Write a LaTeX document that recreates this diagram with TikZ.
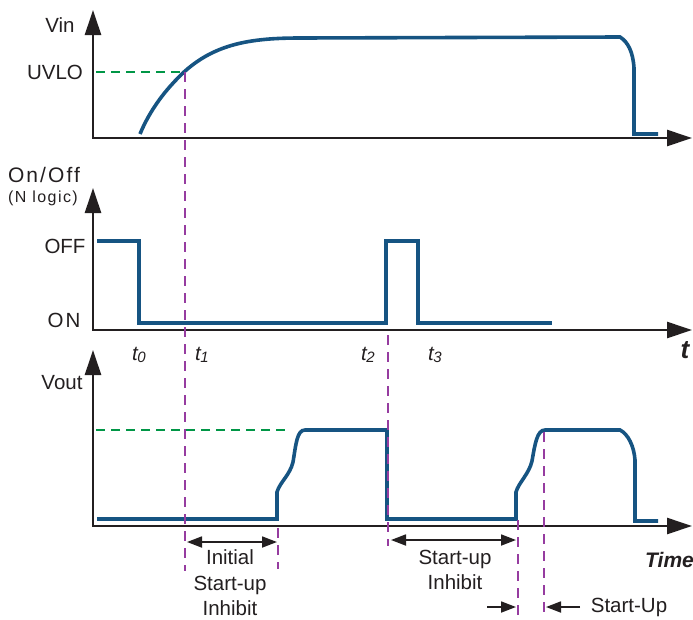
\documentclass[tikz,border=0pt]{standalone}
\usepackage{fontspec}
\setmainfont{Liberation Sans}
\usetikzlibrary{arrows.meta}
\definecolor{wave}{RGB}{22,84,130}
\definecolor{uvgreen}{RGB}{0,150,70}
\definecolor{mark}{RGB}{150,60,160}
\definecolor{axisc}{RGB}{35,31,32}
\begin{document}
\begin{tikzpicture}[x=1pt,y=-1pt,
  >={Triangle[length=15pt,width=11pt]},
  axis/.style={draw=axisc,line width=2.6pt,{Triangle[length=25pt,width=16pt]}-{Triangle[length=25pt,width=16pt]}},
  wv/.style={draw=wave,line width=3.6pt,line join=miter},
  grn/.style={draw=uvgreen,line width=2.8pt,dash pattern=on 9pt off 6pt},
  pur/.style={draw=mark,line width=2.8pt,dash pattern=on 10pt off 7pt},
  dim/.style={draw=axisc,line width=1.8pt},
  lbl/.style={font=\fontsize{20.5}{24}\selectfont,inner sep=0pt,text=axisc},
  tl/.style={font=\fontsize{20.5}{24}\selectfont\itshape,inner sep=0pt,text=axisc}
]
\useasboundingbox (0,0) rectangle (693,619);
% axes
\draw[axis] (93,10) -- (93,138) -- (692,138);
\draw[axis] (93,188) -- (93,330) -- (692,330);
\draw[axis] (93,350) -- (93,526) -- (692,526);

% labels
\node[lbl] (vin) at (60,25) {Vin};
\node[lbl] (uvlo) at (55,72) {UVLO};
\node[lbl,font=\fontsize{21}{24}\selectfont\addfontfeature{LetterSpace=10}] (onoff) at (44,175) {On/Off};
\node[lbl,font=\fontsize{16}{18}\selectfont\addfontfeature{LetterSpace=9}] (nlog) at (43,198) {(N logic)};
\node[lbl] (off) at (65,246) {OFF};
\node[lbl] (on) at (64,320) {O\kern2pt N};
\node[lbl] (vout) at (62,383) {Vout};

\newcommand{\tsub}[1]{t\kern-0.5pt\raisebox{-1.5pt}{\fontsize{15}{15}\selectfont #1}}
\node[tl] (t0) at (139,355) {\tsub{0}};
\node[tl] (t1) at (202,355) {\tsub{1}};
\node[tl] (t2) at (368,355) {\tsub{2}};
\node[tl] (t3) at (435,355) {\tsub{3}};
\node[tl,font=\fontsize{26}{28}\selectfont\bfseries\itshape] (tt) at (685,350) {t};
\node[tl,font=\fontsize{21}{24}\selectfont\bfseries\itshape,anchor=west] (time) at (645,560) {Time};

% Vin curve
\draw[wv] (140,134) .. controls (150,110) and (165,90) .. (184,72)
  .. controls (215,44) and (250,38) .. (300,38) -- (620,37)
  .. controls (628,42) and (633,52) .. (634,68) -- (634,134) -- (658,134);
\draw[grn] (96,72) -- (182,72);

% On/Off
\draw[wv] (97,241) -- (139,241) -- (139,323) -- (386,323) -- (386,241)
  -- (418,241) -- (418,323) -- (552,323);

% Vout
\draw[grn] (96,430) -- (290,430);
\draw[wv] (97,519) -- (277,519) -- (277,492)
  .. controls (280,482) and (290,475) .. (293,462)
  .. controls (296,444) and (297,430) .. (305,430) -- (387,430) -- (387,519)
  -- (516,519) -- (516,492)
  .. controls (519,482) and (529,474) .. (532,461)
  .. controls (535,444) and (537,430) .. (545,430) -- (620,430)
  .. controls (628,434) and (634,446) .. (635,460) -- (635,521) -- (658,521);

% markers
\coordinate (p1a) at (185,72);  \coordinate (p1b) at (185,571);
\coordinate (p2a) at (278,528); \coordinate (p2b) at (278,569);
\coordinate (p3a) at (388,335); \coordinate (p3b) at (388,546);
\coordinate (p4a) at (518,520); \coordinate (p4b) at (518,619);
\coordinate (p5a) at (544,432); \coordinate (p5b) at (544,619);
\draw[pur] (p1a) -- (p1b);
\draw[pur] (p2a) -- (p2b);
\draw[pur] (p3a) -- (p3b);
\draw[pur] (p4a) -- (p4b);
\draw[pur] (p5a) -- (p5b);

% dimension arrows
\coordinate (d1a) at (187,542); \coordinate (d1b) at (277,542);
\draw[dim,<->] (d1a) -- (d1b);
\node[lbl,align=center,font=\fontsize{20.5}{25.5}\selectfont] (init) at (230,583) {Initial\\Start-up\\Inhibit};
\coordinate (d2a) at (391,540); \coordinate (d2b) at (516,540);
\draw[dim,<->] (d2a) -- (d2b);
\node[lbl,align=center,font=\fontsize{20.5}{25}\selectfont] (sui) at (455,570) {Start-up\\Inhibit};
\coordinate (d3a) at (487,607); \coordinate (d3b) at (516,607);
\draw[dim,->] (d3a) -- (d3b);
\coordinate (d4a) at (580,607); \coordinate (d4b) at (546,607);
\draw[dim,->] (d4a) -- (d4b);
\node[lbl] (su) at (629,607) {Start-Up};
\end{tikzpicture}
\end{document}
